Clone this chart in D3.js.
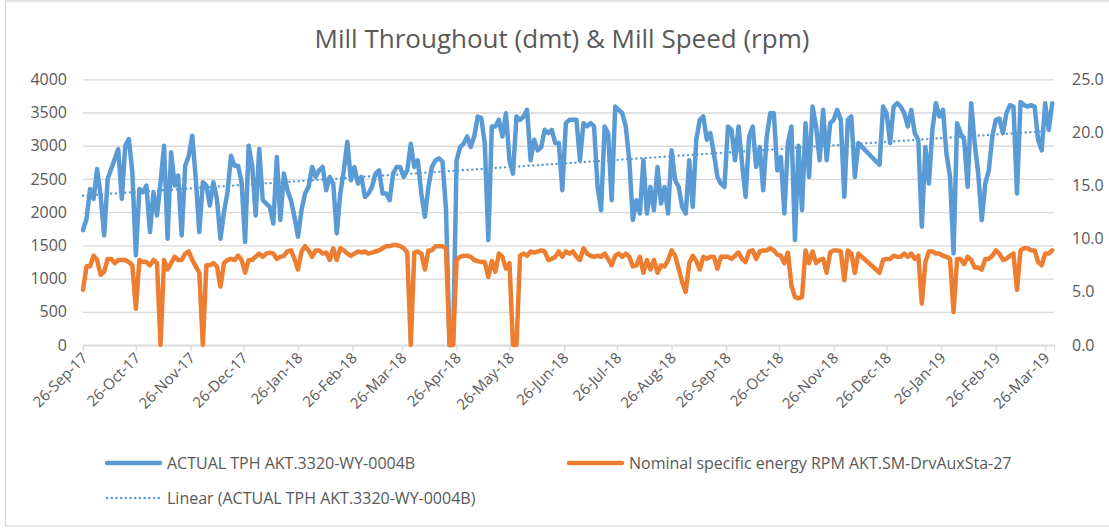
<!DOCTYPE html>
<html>
<head>
<meta charset="utf-8">
<script src="https://cdn.jsdelivr.net/npm/d3@7"></script>
<style>
  body { margin: 0; background: #fff; }
  text { font-family: "Open Sans", sans-serif; fill: #595959; }
</style>
</head>
<body>
<script>
// chart values (one reading every 2 days from 26-Sep-17)
const title = 'Mill Throughout (dmt) & Mill Speed (rpm)';
const startDate = new Date(2017, 8, 26);
const endDate = new Date(2019, 2, 31);
const stepDays = 2;

// ACTUAL TPH AKT.3320-WY-0004B (left axis), null = no data
const tph = [
  1730,1900,2350,2200,2650,2250,1650,2500,2650,2800,
  2950,2200,3000,3100,2600,1350,2350,2300,2400,1700,
  2300,1950,2450,3000,1600,2900,2400,2550,1650,2700,
  2850,3150,2500,1700,2450,2400,2100,2450,2200,1600,
  2000,2300,2850,2700,2700,2450,1550,3000,2700,1950,
  2950,2180,2130,2080,1830,2830,1880,2580,2330,2180,
  1930,1630,2030,2280,2380,2680,2530,2630,2680,2330,
  2530,2430,1680,2280,2630,3060,2480,2680,2430,2530,
  2230,2280,2380,2580,2630,2280,2280,2180,2580,2680,
  2680,2530,2630,3030,2680,2780,2280,1930,2380,2680,
  2780,2810,2760,2030,0,0,2780,2980,3030,3140,
  2980,3140,3440,3420,3030,1580,3290,3290,3390,3140,
  3490,2780,2580,3440,3390,3440,3540,2780,3090,2930,
  2980,3240,3190,3240,3040,3040,2330,3340,3390,3390,
  3390,2780,3340,3290,3340,3290,2380,2030,3290,3190,
  2180,3590,3540,3490,3290,2780,1880,2180,1980,2780,
  1980,2380,2030,2680,2130,2380,1980,2930,2480,2380,
  2080,1980,2780,2080,3090,3390,3440,3090,3190,2880,
  2530,2430,2380,3290,3240,2780,3290,2730,2230,3140,
  3290,2680,2980,2330,3140,3490,3490,2630,2830,1980,
  3040,3290,1580,3000,2030,3340,2530,3590,3290,2780,
  3540,2780,3340,3390,3540,3390,2230,3390,3440,2530,
  3040,null,null,null,null,null,2710,3590,3490,3040,
  3590,3640,3590,3490,3290,3540,3190,3090,1780,2980,
  2430,3240,3640,3440,3540,2880,2530,1380,3340,3190,
  3090,2380,3640,3040,2580,1880,2430,2630,3140,3390,
  3410,3190,3490,3610,3590,2280,3660,3610,3590,3610,
  3590,3090,2930,3640,3240,3640
];

// Nominal specific energy RPM AKT.SM-DrvAuxSta-27 (right axis)
const rpm = [
  5.2,7.4,7.4,8.4,8.0,6.6,6.9,8.1,8.1,7.7,
  8.0,8.0,8.0,7.8,7.5,3.4,8.0,7.8,7.8,7.5,
  8.0,7.7,0,8.0,7.1,7.7,8.3,8.0,8.0,8.6,
  8.8,8.0,7.4,6.8,0,7.5,7.5,7.7,7.4,5.5,
  7.7,8.0,8.1,8.0,8.4,8.0,6.8,8.0,8.0,8.3,
  8.6,8.3,8.6,8.7,8.6,8.1,8.3,8.4,8.8,8.9,
  8.1,7.1,8.8,9.3,8.9,8.3,8.9,8.9,8.6,8.7,
  8.0,9.1,8.0,9.1,8.9,8.6,8.4,8.6,8.8,8.7,
  8.8,8.6,8.7,8.8,8.9,9.1,9.3,9.3,9.4,9.4,
  9.3,9.1,8.7,0,8.7,8.8,8.6,7.1,8.9,8.9,
  9.3,9.3,9.3,9.1,0,0,8.0,8.3,8.4,8.4,
  8.3,8.0,7.9,7.8,7.8,6.4,7.9,6.9,8.6,8.3,
  7.2,7.7,0,0,8.4,8.6,8.4,8.8,8.7,8.8,
  8.9,8.8,8.0,8.1,8.3,8.8,8.3,8.8,8.6,8.8,
  8.3,8.0,9.1,8.6,8.4,8.3,8.4,8.3,8.6,8.1,
  7.5,8.4,8.6,8.3,8.6,8.3,7.4,7.5,8.3,6.8,
  8.0,7.1,8.0,6.8,7.5,7.4,8.0,8.9,8.4,7.2,
  5.9,5.0,7.7,8.4,7.9,7.1,8.3,8.1,8.3,8.3,
  7.2,8.3,8.3,8.3,8.1,8.4,8.7,8.1,7.8,8.8,
  8.9,8.1,8.8,8.9,8.9,9.1,8.9,8.5,8.4,7.7,
  8.7,5.6,4.5,4.4,4.5,8.9,7.7,8.8,7.7,8.0,
  8.1,6.8,8.7,8.9,8.9,8.8,6.1,8.9,8.6,6.8,
  8.6,null,null,null,null,null,6.8,8.0,8.1,8.1,
  8.4,8.3,8.3,8.6,8.3,8.6,8.1,8.4,3.9,7.8,
  8.8,8.8,8.6,8.6,8.4,8.3,8.1,3.1,8.1,8.1,
  7.6,8.3,8.0,7.3,7.3,7.1,8.1,8.1,8.4,8.9,
  8.6,8.0,8.1,8.4,8.6,5.2,8.9,9.1,9.1,8.9,
  8.9,7.8,7.5,8.6,8.6,8.9
];

const leftTicks = [0, 500, 1000, 1500, 2000, 2500, 3000, 3500, 4000];
const rightTicks = [0, 5, 10, 15, 20, 25];
const seriesNames = [
  'ACTUAL TPH AKT.3320-WY-0004B',
  'Nominal specific energy RPM AKT.SM-DrvAuxSta-27',
  'Linear (ACTUAL TPH AKT.3320-WY-0004B)'
];

const W = 1109, H = 529;
const blue = '#5B9BD5', orange = '#ED7D31', grid = '#D9D9D9';
const plot = { left: 83, right: 1054, top: 79.3, bottom: 345 };
const dots = '0.1 4.6';

const svg = d3.select('body').append('svg')
  .attr('width', W).attr('height', H);

svg.append('rect')
  .attr('x', 5.5).attr('y', 1).attr('width', W + 10).attr('height', 525)
  .attr('fill', '#fff').attr('stroke', grid).attr('stroke-width', 1.3);

svg.append('text')
  .attr('x', 562).attr('y', 48)
  .attr('text-anchor', 'middle')
  .style('font-size', '26px')
  .text(title);

const dates = tph.map((v, i) => d3.timeDay.offset(startDate, i * stepDays));

const x = d3.scaleTime().domain([startDate, endDate]).range([plot.left, plot.right]);
const yL = d3.scaleLinear().domain([0, 4000]).range([plot.bottom, plot.top]);
const yR = d3.scaleLinear().domain([0, 25]).range([plot.bottom, plot.top]);

// gridlines + left axis
const gL = svg.append('g').attr('transform', `translate(${plot.left},0)`)
  .call(d3.axisLeft(yL).tickValues(leftTicks).tickFormat(d3.format('d'))
    .tickSize(-(plot.right - plot.left)).tickPadding(16));
gL.select('.domain').remove();
gL.selectAll('line').attr('stroke', grid).attr('stroke-width', 1.3);
gL.selectAll('text').style('font-size', '16px').attr('fill', '#595959');

const gR = svg.append('g').attr('transform', `translate(${plot.right},0)`)
  .call(d3.axisRight(yR).tickValues(rightTicks).tickFormat(d3.format('.1f')).tickSize(0).tickPadding(18));
gR.select('.domain').remove();
gR.selectAll('text').style('font-size', '16px').attr('fill', '#595959');

// x axis
const monthTicks = d3.timeMonth.range(new Date(2017, 8, 1), new Date(2019, 3, 1))
  .map(m => new Date(m.getFullYear(), m.getMonth(), 26));
const gX = svg.append('g').attr('transform', `translate(0,${plot.bottom})`)
  .call(d3.axisBottom(x).tickValues(monthTicks).tickFormat(d3.timeFormat('%d-%b-%y')).tickSizeOuter(0).tickSize(6));
gX.select('.domain').attr('stroke', grid).attr('stroke-width', 1.3);
gX.selectAll('line').attr('stroke', grid).attr('stroke-width', 1.3);
gX.selectAll('text')
  .style('font-size', '15px').attr('fill', '#595959')
  .attr('text-anchor', 'end')
  .attr('dy', null).attr('y', 0)
  .attr('transform', 'translate(5,14) rotate(-45)');

// series
const tphPts = dates.map((d, i) => [d, tph[i]]).filter(p => p[1] != null);
const rpmPts = dates.map((d, i) => [d, rpm[i]]).filter(p => p[1] != null);

svg.append('path')
  .datum(tphPts)
  .attr('fill', 'none').attr('stroke', blue).attr('stroke-width', 4.5)
  .attr('stroke-linejoin', 'round').attr('stroke-linecap', 'round')
  .attr('d', d3.line().x(p => x(p[0])).y(p => yL(p[1])));

// linear trend of TPH (least squares on day number)
const xs = tphPts.map(p => d3.timeDay.count(startDate, p[0]));
const ys = tphPts.map(p => p[1]);
const mx = d3.mean(xs), my = d3.mean(ys);
const slope = d3.sum(xs, (v, i) => (v - mx) * (ys[i] - my)) / d3.sum(xs, v => (v - mx) * (v - mx));
const icpt = my - slope * mx;
const first = tphPts[0][0], last = tphPts[tphPts.length - 1][0];
svg.append('line')
  .attr('x1', x(first)).attr('y1', yL(icpt + slope * d3.timeDay.count(startDate, first)))
  .attr('x2', x(last)).attr('y2', yL(icpt + slope * d3.timeDay.count(startDate, last)))
  .attr('stroke', blue).attr('stroke-width', 2.4)
  .attr('stroke-dasharray', dots).attr('stroke-linecap', 'round');

svg.append('path')
  .datum(rpmPts)
  .attr('fill', 'none').attr('stroke', orange).attr('stroke-width', 4.5)
  .attr('stroke-linejoin', 'round').attr('stroke-linecap', 'round')
  .attr('d', d3.line().x(p => x(p[0])).y(p => yR(p[1])));

// legend
const legend = [
  { name: seriesNames[0], color: blue, dash: null, w: 4.5, x: 107, y: 463 },
  { name: seriesNames[1], color: orange, dash: null, w: 4.5, x: 569, y: 463 },
  { name: seriesNames[2], color: blue, dash: dots, w: 2.4, x: 107, y: 498 }
];
const lg = svg.selectAll('g.legend').data(legend).enter().append('g')
  .attr('class', 'legend')
  .attr('transform', d => `translate(${d.x},${d.y})`);
lg.append('line')
  .attr('x1', 0).attr('x2', 53).attr('y1', 0).attr('y2', 0)
  .attr('stroke', d => d.color).attr('stroke-width', d => d.w)
  .attr('stroke-dasharray', d => d.dash).attr('stroke-linecap', 'round');
lg.append('text')
  .attr('x', 60).attr('y', 0).attr('dy', '0.35em')
  .style('font-size', '16px')
  .text(d => d.name);
</script>
</body>
</html>
